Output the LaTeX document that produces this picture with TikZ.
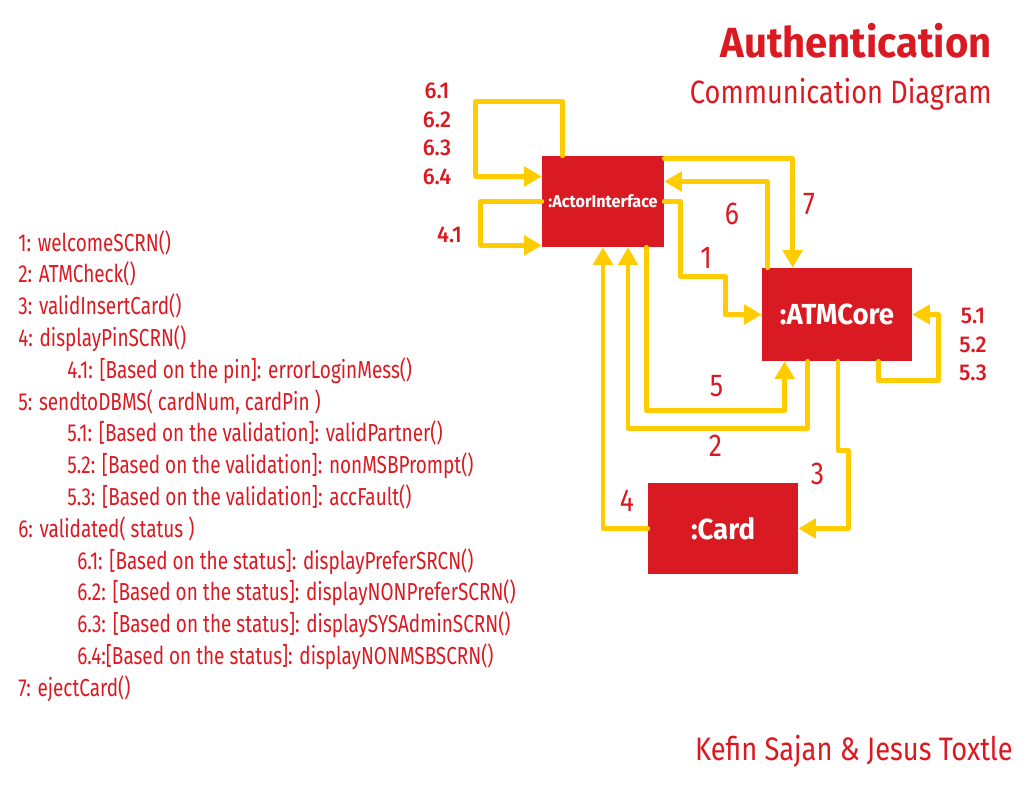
\documentclass[tikz,border=0pt]{standalone}
\usepackage{fontspec}
\setmainfont{Fira Sans}[FakeStretch=0.77]
\newfontfamily\headfont{Fira Sans}[FakeStretch=0.95]
\newfontfamily\midfont{Fira Sans}[FakeStretch=0.84]
\newfontfamily\subfont{Fira Sans Medium}[FakeStretch=0.95]
\usepackage{tikz}
\usetikzlibrary{%
  positioning
 ,arrows.meta
 ,calc
}
\definecolor{authred}{HTML}{DA1A22}
\definecolor{authyel}{HTML}{FFCC00}
\tikzstyle{obj}=[rectangle,fill=authred,text=white,inner sep=0pt]
\tikzstyle{flow}=[draw=authyel,line width=2.8pt,line cap=round,line join=round,-{Triangle[length=10pt,width=11pt]}]

\begin{document}
\begin{tikzpicture}[x=0.02cm,y=-0.02cm]
  \tikzstyle{num} = [text=authred,inner sep=0pt,font=\midfont\fontsize{18}{18}\selectfont]
  \tikzstyle{sub} = [text=authred,inner sep=0pt,font=\subfont\fontsize{13}{13}\selectfont]
  \tikzstyle{msg} = [text=authred,inner sep=0pt,anchor=base west,font=\fontsize{14}{14}\selectfont]
  \useasboundingbox (0,0) rectangle (1036,791);
  % the titles
  \node[anchor=base east,text=authred,inner sep=0pt,font=\headfont\bfseries\fontsize{24}{24}\selectfont](title)at(992,57){Authentication};
  \node[anchor=base east,text=authred,inner sep=0pt,font=\midfont\fontsize{18.4}{18.4}\selectfont](subtitle)at(992,103){Communication Diagram};
  \node[anchor=base east,text=authred,inner sep=0pt,font=\midfont\fontsize{18.5}{18.5}\selectfont](names)at(1013,760){Kefin Sajan \& Jesus Toxtle};
  % the objects
  \node[obj,minimum width=2.44cm,minimum height=1.82cm,font=\headfont\bfseries\fontsize{9.7}{10}\selectfont](actor)at(603,201.5){:ActorInterface};
  \node[obj,minimum width=3cm,minimum height=1.86cm,font=\headfont\bfseries\fontsize{16.5}{16.5}\selectfont](core)at(837,314.5){:ATMCore};
  \node[obj,minimum width=3cm,minimum height=1.82cm,font=\headfont\bfseries\fontsize{16.5}{16.5}\selectfont](card)at(723,528.5){:Card};
  % the self loops
  \draw[flow] ($(actor.north west)+(21,0)$) -- ++(0,-54) -| ($(actor.west)+(-66,-25)$) -- ($(actor.west)+(0,-25)$);
  \draw[flow] (actor.west) -- ++(-61,0) |- ($(actor.south west)+(0,-2)$);
  \draw[flow] ($(core.south east)+(-34,0)$) -- ++(0,19) -| ($(core.east)+(26,0)$) -- (core.east);
  % the messages
  \draw[flow] (actor.east) -| ++(16,75) -| ($(core.west)+(-36,0)$) -- (core.west);
  \draw[flow] ($(core.south west)+(46,0)$) |- ($(actor.south)+(25,181)$) -- ($(actor.south)+(25,0)$);
  \draw[flow] ($(core.south)+(1,0)$) -- ++(0,89) -| ($(card.east)+(50,0)$) -- (card.east);
  \draw[flow] (card.west) -| (actor.south);
  \draw[flow] ($(actor.south east)+(-18,0)$) |- ($(core.south west)+(23,49)$) -- ($(core.south west)+(23,0)$);
  \draw[flow] ($(core.north west)+(6,0)$) |- ($(actor.east)+(0,-20)$);
  \draw[flow] ($(actor.north east)+(0,3)$) -| ($(core.north west)+(31,0)$);
  % the numbers
  \node[sub](l61)at(437,90.5){6.1};\node[sub](l62)at(437,119.5){6.2};
  \node[sub](l63)at(437,147.5){6.3};\node[sub](l64)at(437,176.5){6.4};
  \node[sub](l41)at(449.5,235){4.1};
  \node[sub](l51)at(973,315.5){5.1};\node[sub](l52)at(973,344.5){5.2};\node[sub](l53)at(973,372.5){5.3};
  \node[num](l1)at(706,257.5){1};\node[num](l2)at(715.5,446){2};\node[num](l3)at(817.5,474){3};
  \node[num](l4)at(627,501){4};\node[num](l5)at(716.5,386){5};\node[num](l6)at(732,214){6};
  \node[num](l7)at(809,204){7};
  % the message list
  \node[msg](m1)at(18,251){1: welcomeSCRN()};
  \node[msg](m2)at(18,282.8){2: ATMCheck()};
  \node[msg](m3)at(18,314.6){3: validInsertCard()};
  \node[msg](m4)at(18,346.4){4: displayPinSCRN()};
  \node[msg](m41)at(67,378.2){4.1: [Based on the pin]: errorLoginMess()};
  \node[msg](m5)at(18,410){5: sendtoDBMS( cardNum, cardPin )};
  \node[msg](m51)at(67,441.8){5.1: [Based on the validation]: validPartner()};
  \node[msg](m52)at(67,473.6){5.2: [Based on the validation]: nonMSBPrompt()};
  \node[msg](m53)at(67,505.4){5.3: [Based on the validation]: accFault()};
  \node[msg](m6)at(18,537.2){6: validated( status )};
  \node[msg](m61)at(77,569){6.1: [Based on the status]: displayPreferSRCN()};
  \node[msg](m62)at(77,600.8){6.2: [Based on the status]: displayNONPreferSCRN()};
  \node[msg](m63)at(77,632.6){6.3: [Based on the status]: displaySYSAdminSCRN()};
  \node[msg](m64)at(77,664.4){6.4:[Based on the status]: displayNONMSBSCRN()};
  \node[msg](m7)at(18,696.2){7: ejectCard()};
\end{tikzpicture}
\end{document}
